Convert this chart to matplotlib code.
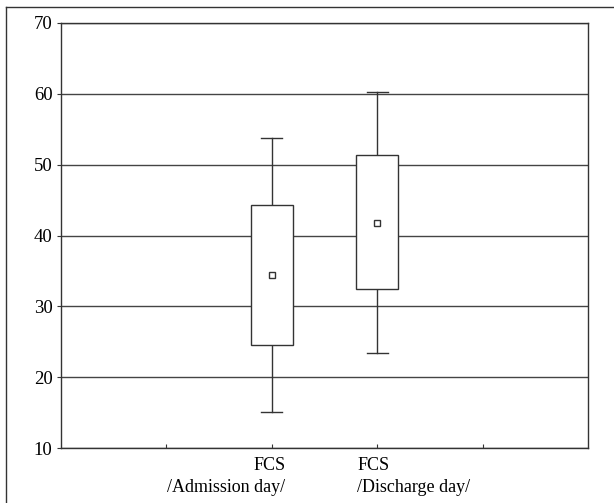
import matplotlib
matplotlib.use("Agg")
import matplotlib.pyplot as plt
from matplotlib.lines import Line2D
from matplotlib.patches import Rectangle

# values
groups = ["FCS\n/Admission day/", "FCS\n/Discharge day/"]
positions = [2, 3]
means = [34.4, 41.8]
box_low = [24.5, 32.5]
box_high = [44.3, 51.3]
whisk_low = [15.1, 23.4]
whisk_high = [53.7, 60.3]

plt.rcParams['font.family'] = ['Liberation Serif', 'DejaVu Serif']

fig = plt.figure(figsize=(6.14, 5.03), dpi=100)
ax = fig.add_axes([0.0993, 0.1093, 0.8584, 0.845])

ink = '#333333'
ax.set_xlim(0, 5)
ax.set_ylim(10, 70)
ax.set_yticks(range(10, 71, 10))
ax.set_xticks([1, 2, 3, 4])
ax.set_xticklabels([])
ax.yaxis.grid(True, color='#444444', linewidth=1.0)
ax.set_axisbelow(True)
for s in ax.spines.values():
    s.set_color(ink)
    s.set_linewidth(1.0)
ax.tick_params(axis='y', direction='out', length=3, color=ink, labelsize=13.5, pad=3)
ax.tick_params(axis='x', direction='in', length=3, color=ink)

bw = 0.4
cw = 0.2
for i, x in enumerate(positions):
    ax.plot([x, x], [whisk_low[i], box_low[i]], color=ink, lw=1.0)
    ax.plot([x, x], [box_high[i], whisk_high[i]], color=ink, lw=1.0)
    ax.plot([x - cw / 2, x + cw / 2], [whisk_low[i]] * 2, color=ink, lw=1.0)
    ax.plot([x - cw / 2, x + cw / 2], [whisk_high[i]] * 2, color=ink, lw=1.0)
    ax.add_patch(Rectangle((x - bw / 2, box_low[i]), bw, box_high[i] - box_low[i],
                           facecolor='white', edgecolor=ink, lw=1.0, zorder=3))
    ax.plot([x], [means[i]], marker='s', markersize=5, markerfacecolor='white',
            markeredgecolor=ink, markeredgewidth=1.0, zorder=4)

# category labels: first right-aligned, second left-aligned as in the reference
tr = ax.get_xaxis_transform()
ax.text(positions[0] + 0.13, -0.02, groups[0], transform=tr, ha='right', va='top',
        fontsize=13, linespacing=1.45, multialignment='right')
ax.text(positions[1] - 0.19, -0.02, groups[1], transform=tr, ha='left', va='top',
        fontsize=13, linespacing=1.45, multialignment='left')

# outer frame (left and top edges)
fig.add_artist(Line2D([0.0098, 0.0098], [0.0, 0.986], color=ink, lw=1.0))
fig.add_artist(Line2D([0.0098, 1.0], [0.986, 0.986], color=ink, lw=1.0))

fig.savefig('out.png', dpi=100)
